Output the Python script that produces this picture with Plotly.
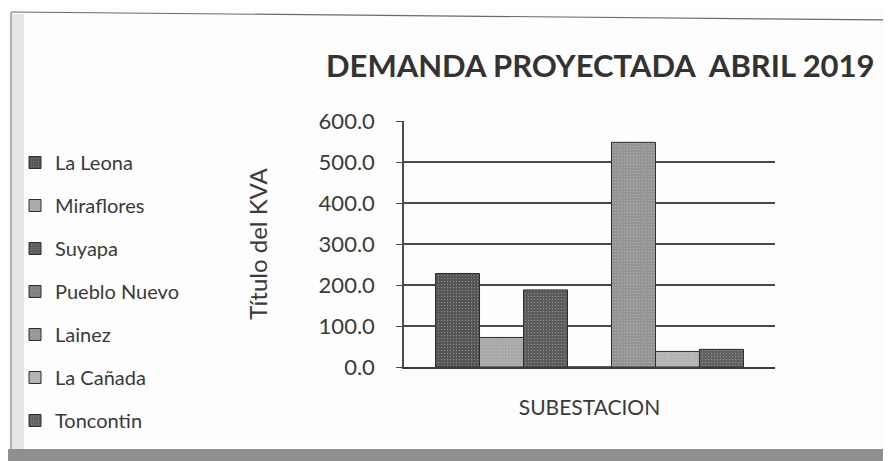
import plotly.graph_objects as go

categories = ["SUBESTACION"]
series_names = ["La Leona", "Miraflores", "Suyapa", "Pueblo Nuevo", "Lainez", "La Cañada", "Toncontin"]
series_values = [228, 72, 188, 0, 548, 38, 43]
series_colors = ["#565656", "#a9a9a9", "#5c5c5c", "#7e7e7e", "#959595", "#b3b3b3", "#626262"]
y_ticks = [0, 100, 200, 300, 400, 500, 600]
y_tick_labels = ["0.0", "100.0", "200.0", "300.0", "400.0", "500.0", "600.0"]

# the page body adds an 8px margin; work in page pixels and shift
OFF = 8
W, H = 891 - OFF, 461 - OFF
L, R, T, B = 404 - OFF, 775 - OFF, 121 - OFF, 367 - OFF

def px_x(p):
    return (p - OFF - L) / (R - L)

def px_y(p):
    return (B - (p - OFF)) / (B - T)

fig = go.Figure()
for name, val, col in zip(series_names, series_values, series_colors):
    fig.add_trace(go.Bar(
        x=categories, y=[val], name=name, legendgroup=name,
        marker=dict(color=col, line=dict(color="#2e2e2e", width=1),
                    pattern=dict(shape=".", fgcolor="#cfcfcf", size=3, solidity=0.12,
                                 fillmode="overlay")),
    ))

font_family = "Lato, 'Open Sans', sans-serif"

fig.update_layout(
    width=W, height=H,
    margin=dict(l=L, r=W - R, t=T, b=H - B, autoexpand=False),
    paper_bgcolor="#fdfdfd", plot_bgcolor="rgba(0,0,0,0)",
    font=dict(family=font_family, color="#3a3a3a"),
    barmode="group", bargap=0.17, bargroupgap=0.0,
    title=dict(text="<b>DEMANDA PROYECTADA  ABRIL 2019</b>",
               font=dict(size=31, color="#333333", family=font_family),
               xref="container", x=(326 - OFF) / W, xanchor="left",
               yref="container", y=1 - (66 - OFF) / H, yanchor="middle"),
    showlegend=True,
    legend=dict(x=px_x(15), xanchor="left", y=px_y(143), yanchor="top",
                font=dict(size=20, color="#3a3a3a"), traceorder="grouped",
                tracegroupgap=14, bgcolor="rgba(0,0,0,0)", itemwidth=30,
                maxheight=360),
    xaxis=dict(showticklabels=False, showgrid=False, showline=True,
               linecolor="#3c3c3c", linewidth=2, ticks="",
               title=dict(text="SUBESTACION", font=dict(size=21, color="#3a3a3a"), standoff=32)),
    yaxis=dict(range=[0, 600], tickvals=y_ticks, ticktext=y_tick_labels,
               showgrid=True, gridcolor="#4a4a4a", gridwidth=1.6,
               showline=True, linecolor="#4a4a4a", linewidth=1.5,
               ticks="outside", ticklen=6, tickcolor="#4a4a4a",
               ticklabelstandoff=17, zeroline=False,
               tickfont=dict(size=22, color="#3a3a3a"),
               title=dict(text="Título del KVA", font=dict(size=24, color="#3a3a3a"), standoff=44)),
)

# decorative frame of the scanned picture
shapes = [
    dict(type="rect", xref="paper", yref="paper",
         x0=px_x(10), x1=px_x(24), y0=px_y(450), y1=px_y(14),
         fillcolor="#e6e6e6", line=dict(width=0), layer="below"),
    dict(type="line", xref="paper", yref="paper",
         x0=px_x(11), x1=px_x(891), y0=px_y(12), y1=px_y(20),
         line=dict(color="#6a6a6a", width=1.2)),
    dict(type="line", xref="paper", yref="paper",
         x0=px_x(11), x1=px_x(11), y0=px_y(12), y1=px_y(452),
         line=dict(color="#8a8a8a", width=1.2)),
    dict(type="rect", xref="paper", yref="paper",
         x0=px_x(0), x1=px_x(891), y0=px_y(461), y1=px_y(449),
         fillcolor="#8f8f8f", line=dict(width=0)),
    dict(type="rect", xref="paper", yref="paper",
         x0=px_x(885), x1=px_x(891), y0=px_y(461), y1=px_y(40),
         fillcolor="#9a9a9a", line=dict(width=0)),
]
fig.update_layout(shapes=shapes)

fig.write_html("out.html")
